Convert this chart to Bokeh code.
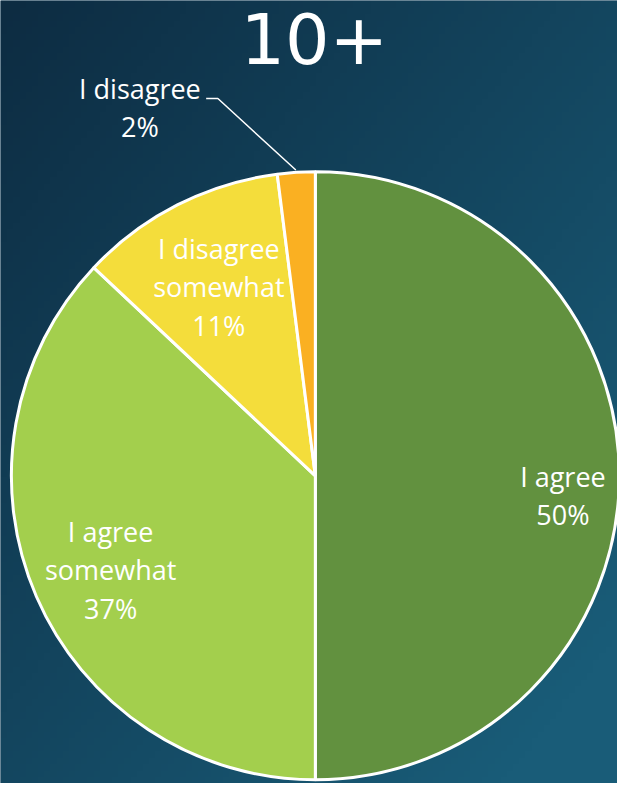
import numpy as np
from bokeh.plotting import figure
from bokeh.models import Range1d, ColumnDataSource
from bokeh.core.properties import value
from bokeh.embed import file_html
from bokeh.resources import INLINE

# ---- data ----
title = "10+"
categories = ["I agree", "I agree somewhat", "I disagree somewhat", "I disagree"]
label_texts = ["I agree\n50%", "I agree\nsomewhat\n37%", "I disagree\nsomewhat\n11%", "I disagree\n2%"]
percent = [50, 37, 11, 2]
colors = ["#62913f", "#a3cf4d", "#f4dd3b", "#fab022"]

# ---- layout: reference frame 633x799 fitted into the plot ----
W, H = 617, 783
SX, SY = W / 633, H / 799
def px(x):
    return x * SX
def py(y):
    return H - y * SY

cx, cy, r = px(323), py(485), 311 * (SX + SY) / 2
label_pos = [(577, 505), (113, 581), (224, 292), (143, 109)]
leader = [(211, 100), (223, 100), (303, 173)]

p = figure(width=W, height=H, output_backend="svg", toolbar_location=None,
           x_range=Range1d(0, W), y_range=Range1d(0, H), min_border=0,
           background_fill_color="#133f5a", border_fill_color="#133f5a",
           outline_line_color=None)
p.axis.visible = False
p.grid.visible = False

# background gradient
ny, nx = 120, 100
gx = np.linspace(0, 1, nx)[None, :]
gy = np.linspace(0, 1, ny)[:, None]  # 0 bottom -> 1 top
t = np.clip(0.55 * gx + 0.55 * (1 - gy), 0, 1)
c0 = np.array([13, 44, 66])
c1 = np.array([25, 92, 120])
img = np.empty((ny, nx), dtype=np.uint32)
view = img.view(dtype=np.uint8).reshape((ny, nx, 4))
for k in range(3):
    view[:, :, k] = (c0[k] + (c1[k] - c0[k]) * t).astype(np.uint8)
view[:, :, 3] = 255
p.image_rgba(image=[img], x=0, y=0, dw=W, dh=H)

# wedges: start at top, clockwise
frac = np.array(percent) / sum(percent)
cum = np.concatenate([[0], np.cumsum(frac)])
start = np.pi / 2 - 2 * np.pi * cum[:-1]
end = np.pi / 2 - 2 * np.pi * cum[1:]
src = ColumnDataSource(dict(start=start, end=end, color=colors, cat=categories))
p.wedge(x=cx, y=cy, radius=r, start_angle="start", end_angle="end",
        direction="clock", fill_color="color", line_color="white", line_width=3,
        source=src)

# leader line for small slice
p.line(x=[px(a) for a, b in leader], y=[py(b) for a, b in leader],
       line_color="white", line_width=1.5)

# labels
p.text(x=[px(a) for a, b in label_pos], y=[py(b) for a, b in label_pos],
       text=label_texts, text_color="white", text_font=value("Open Sans"),
       text_font_size="27px", text_align="center", text_baseline="middle",
       text_line_height=1.04)

# title
p.text(x=[px(322)], y=[py(39)], text=[title], text_color="white",
       text_font=value("DejaVu Sans"), text_font_size="70px",
       text_align="center", text_baseline="alphabetic")

open("out.html", "w").write(file_html(p, INLINE))
